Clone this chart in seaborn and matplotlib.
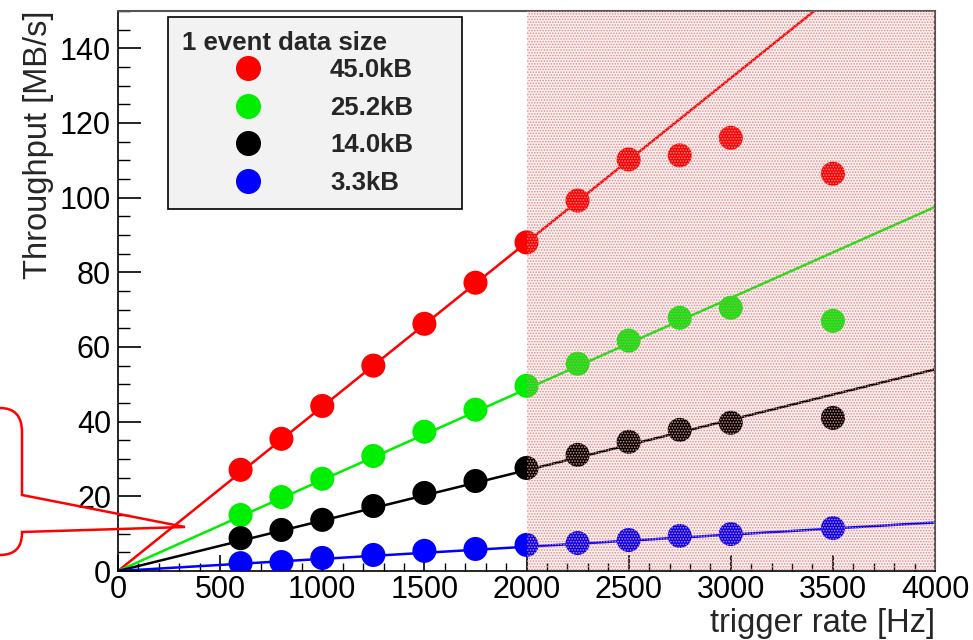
import matplotlib
matplotlib.use("Agg")
import matplotlib.pyplot as plt
import seaborn as sns
import pandas as pd
import numpy as np
from matplotlib.path import Path
from matplotlib.patches import PathPatch
from matplotlib.ticker import MultipleLocator

# ---- data ----
rates = [600, 800, 1000, 1250, 1500, 1750, 2000, 2250, 2500, 2750, 3000, 3500]
sizes = ["45.0kB", "25.2kB", "14.0kB", "3.3kB"]
tp_45 = [27.1, 35.4, 44.2, 55.0, 66.2, 77.2, 88.0, 99.2, 110.2, 111.3, 116.0, 106.4]
tp_25 = [15.0, 19.8, 24.7, 30.8, 37.3, 43.2, 49.6, 55.5, 61.7, 67.8, 70.5, 67.0]
tp_14 = [8.8, 11.0, 13.7, 17.4, 20.9, 24.1, 27.6, 31.1, 34.6, 37.8, 39.7, 41.0]
tp_3 = [2.1, 2.4, 3.5, 4.3, 5.4, 5.9, 7.0, 7.5, 8.3, 9.4, 9.9, 11.5]
line_x = [0, 4000]
line_45 = [0, 176.0]
line_25 = [0, 97.5]
line_14 = [0, 54.0]
line_3 = [0, 13.0]
colors = ["#ff0000", "#00ee00", "#000000", "#0000ff"]

pts = pd.DataFrame({
    "rate": rates * 4,
    "tp": tp_45 + tp_25 + tp_14 + tp_3,
    "size": sum([[s] * len(rates) for s in sizes], []),
})
lines = pd.DataFrame({
    "rate": line_x * 4,
    "tp": line_45 + line_25 + line_14 + line_3,
    "size": sum([[s] * 2 for s in sizes], []),
})

sns.set_theme(style="ticks")
plt.rcParams["font.family"] = ["Liberation Sans", "DejaVu Sans"]
plt.rcParams["hatch.linewidth"] = 0.75

fig = plt.figure(figsize=(9.73, 6.4), dpi=100)
ax = fig.add_axes([0.1213, 0.1078, 0.961 - 0.1213, 0.983 - 0.1078])
pal = dict(zip(sizes, colors))

sns.lineplot(data=lines, x="rate", y="tp", hue="size", palette=pal, lw=1.8,
             legend=False, ax=ax, zorder=2)
sns.scatterplot(data=pts, x="rate", y="tp", hue="size", palette=pal, s=300,
                edgecolor="none", ax=ax, zorder=3, legend=False)

# shaded region
ax.axvspan(2000, 4000, facecolor="#fbf0f0", edgecolor="none", zorder=0)
ax.axvspan(2000, 4000, facecolor="none", hatch="......", edgecolor=(0.87, 0.55, 0.55),
           lw=0, zorder=4)

ax.set_xlim(0, 4000)
ax.set_ylim(0, 150)
ax.xaxis.set_major_locator(MultipleLocator(500))
ax.xaxis.set_minor_locator(MultipleLocator(100))
ax.yaxis.set_major_locator(MultipleLocator(20))
ax.yaxis.set_minor_locator(MultipleLocator(5))
ax.tick_params(which="both", direction="in", labelsize=22, colors="black", width=1.2)
ax.tick_params(axis="y", which="major", length=16.5, pad=5)
ax.tick_params(axis="y", which="minor", length=8.5, width=1.0)
ax.tick_params(axis="x", which="major", length=11.5, pad=3)
ax.tick_params(axis="x", which="minor", length=6, width=1.0)
for s in ["left", "bottom"]:
    ax.spines[s].set_color("black")
    ax.spines[s].set_linewidth(1.2)
for s in ["top", "right"]:
    ax.spines[s].set_color("#555555")
    ax.spines[s].set_linewidth(1.5)
ax.set_xlabel("trigger rate [Hz]", fontsize=23.5, loc="right", labelpad=2)
ax.set_ylabel("Throughput [MB/s]", fontsize=23.5, loc="top", labelpad=4)

# legend
handles = [plt.Line2D([], [], marker="o", ls="none", color=c, markersize=17) for c in colors]
leg = ax.legend(handles, sizes, title="1 event data size", loc="upper left",
                bbox_to_anchor=(0.0612, 0.989, 0.360, 0.0), mode="expand",
                frameon=True, fancybox=False,
                edgecolor="black", facecolor="#f2f2f2", framealpha=1,
                prop={"weight": "bold", "size": 18.5}, handlelength=5.15,
                handletextpad=0.6, labelspacing=0.53, borderpad=0.55,
                alignment="left", borderaxespad=0)
leg.get_title().set_fontweight("bold")
leg.get_title().set_fontsize(18.5)
leg.get_frame().set_linewidth(1.2)
leg._legend_box.sep = 2.0
leg.set_zorder(6)

# callout bubble (figure pixel coords)
W, H = 973, 640
def P(x, y):
    return (x / W, 1 - y / H)
codes = [Path.MOVETO, Path.LINETO, Path.CURVE3, Path.CURVE3, Path.LINETO, Path.LINETO,
         Path.LINETO, Path.LINETO, Path.CURVE3, Path.CURVE3, Path.LINETO]
verts = [P(-10, 408), P(0, 408), P(22, 408), P(22, 432), P(22, 495), P(185, 527),
         P(22, 532), P(22, 533), P(22, 555), P(0, 555), P(-10, 555)]
fig.add_artist(PathPatch(Path(verts, codes), transform=fig.transFigure,
                         facecolor="none", edgecolor="red", lw=1.8, zorder=10,
                         clip_on=False))

fig.savefig("out.png", dpi=100)
